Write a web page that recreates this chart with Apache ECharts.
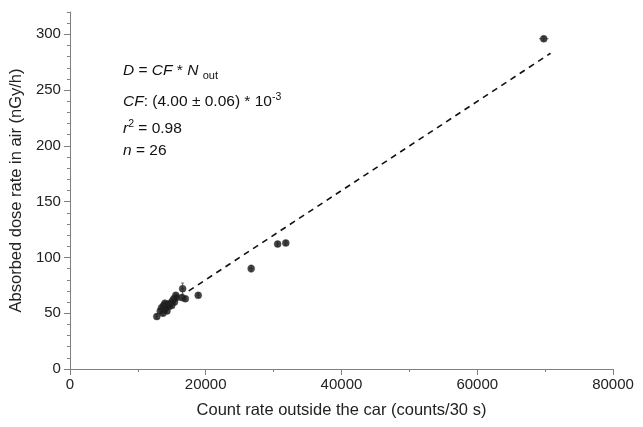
<!DOCTYPE html>
<html>
<head>
<meta charset="utf-8">
<script src="https://cdn.jsdelivr.net/npm/echarts@6/dist/echarts.min.js"></script>
<style>
html,body{margin:0;padding:0;background:#fff;}
#chart{width:643px;height:427px;}
</style>
</head>
<body>
<div id="chart"></div>
<script>
// Count rate outside the car (counts/30 s)
const countRate = [12800, 13300, 13500, 13700, 13800, 13900, 14000, 14100, 14300, 14400,
                   14600, 14800, 15000, 15100, 15300, 15400, 15600, 15700, 16600, 16500,
                   17000, 18900, 26700, 30600, 31800, 69800];
// Absorbed dose rate in air (nGy/h)
const doseRate  = [47, 52, 55, 50, 57, 53, 59, 55, 52, 58,
                   56, 59, 57, 61, 63, 60, 66, 64, 72, 64,
                   63, 66, 90, 112, 113, 296];
const countErr  = [200, 200, 200, 200, 200, 200, 200, 200, 200, 200,
                   200, 200, 200, 200, 200, 200, 200, 200, 200, 200,
                   200, 250, 300, 300, 350, 700];
const doseErr   = [2, 2, 2, 2, 2, 2, 2, 2, 2, 2,
                   2, 2, 2, 2, 2, 2, 2, 2, 5, 2,
                   2, 2, 3, 2, 2, 2];
// Fit D = CF * N_out, CF = 4.00e-3
const fitX = [17500, 70800];
const fitY = [70, 283];

const xTicks = [0, 20000, 40000, 60000, 80000];
const yTicks = [0, 50, 100, 150, 200, 250, 300];

const chart = echarts.init(document.getElementById('chart'), null, {renderer: 'canvas'});

const scatterData = countRate.map((x, i) => [x, doseRate[i]]);
const errData = countRate.map((x, i) => [x, doseRate[i], countErr[i], doseErr[i]]);
const fitData = fitX.map((x, i) => [x, fitY[i]]);

const axisColor = '#808080';
const labelColor = '#222';
const font = 'Liberation Sans, Arial, sans-serif';

chart.setOption({
  animation: false,
  backgroundColor: '#fff',
  grid: {left: 69, right: 30, top: 12, bottom: 58, containLabel: false},
  xAxis: [{
    type: 'value', min: xTicks[0], max: xTicks[xTicks.length - 1], interval: 20000,
    name: 'Count rate outside the car (counts/30 s)', nameLocation: 'middle', nameGap: 33,
    nameTextStyle: {fontSize: 16.5, color: labelColor, fontFamily: font},
    axisLine: {show: true, lineStyle: {color: axisColor, width: 1}},
    axisTick: {show: true, length: 6, lineStyle: {color: axisColor}},
    minorTick: {show: true, splitNumber: 2, length: 3, lineStyle: {color: axisColor}},
    axisLabel: {fontSize: 15, color: labelColor, fontFamily: font, margin: 8,
      formatter: v => String(v)},
    splitLine: {show: false}
  }],
  yAxis: [{
    type: 'value', min: 0, max: 320, interval: 50,
    name: 'Absorbed dose rate in air (nGy/h)', nameLocation: 'middle', nameGap: 43,
    nameTextStyle: {fontSize: 16.5, color: labelColor, fontFamily: font},
    axisLine: {show: true, lineStyle: {color: axisColor, width: 1}},
    axisTick: {show: true, length: 6, lineStyle: {color: axisColor}},
    axisLabel: {fontSize: 15, color: labelColor, fontFamily: font, margin: 9, showMaxLabel: false,
      formatter: v => (yTicks.indexOf(v) >= 0 ? String(v) : '')},
    splitLine: {show: false}
  }, {
    type: 'value', min: 0, max: 320, interval: 10, position: 'left',
    axisLine: {show: false},
    axisTick: {show: true, length: 3, lineStyle: {color: axisColor}},
    axisLabel: {show: false},
    splitLine: {show: false}
  }],
  series: [{
    type: 'line', data: fitData, symbol: 'none', silent: true,
    lineStyle: {color: '#111', width: 1.6, type: [6, 5]}, z: 2
  }, {
    type: 'custom', data: errData, z: 3, silent: true,
    renderItem: function (params, api) {
      const x = api.value(0), y = api.value(1), ex = api.value(2), ey = api.value(3);
      const l = api.coord([x - ex, y]), r = api.coord([x + ex, y]);
      const t = api.coord([x, y + ey]), b = api.coord([x, y - ey]);
      const st = {stroke: '#666', lineWidth: 1};
      return {type: 'group', children: [
        {type: 'line', shape: {x1: l[0], y1: l[1], x2: r[0], y2: r[1]}, style: st},
        {type: 'line', shape: {x1: t[0], y1: t[1], x2: b[0], y2: b[1]}, style: st},
        {type: 'line', shape: {x1: t[0] - 1.5, y1: t[1], x2: t[0] + 1.5, y2: t[1]}, style: st},
        {type: 'line', shape: {x1: b[0] - 1.5, y1: b[1], x2: b[0] + 1.5, y2: b[1]}, style: st}
      ]};
    }
  }, {
    type: 'scatter', data: scatterData, symbol: 'circle', symbolSize: 7, z: 4,
    itemStyle: {color: '#1a1a1a', borderColor: '#333', borderWidth: 0.5}
  }],
  graphic: [
    {type: 'text', left: 123, top: 63, style: {
      text: '{i|D} = {i|CF} * {i|N} {sub|out}',
      font: '15.5px ' + font, fill: '#111',
      rich: {
        i: {fontStyle: 'italic', fontSize: 15.5, fontFamily: font, lineHeight: 21, verticalAlign: 'middle'},
        sub: {fontSize: 11, fontFamily: font, lineHeight: 9, verticalAlign: 'bottom'}
      }
    }},
    {type: 'text', left: 123, top: 92, style: {
      text: '{i|CF}: (4.00 \u00b1 0.06) * 10{sup|-3}',
      font: '15.5px ' + font, fill: '#111',
      rich: {
        i: {fontStyle: 'italic', fontSize: 15.5, fontFamily: font, lineHeight: 20},
        sup: {fontSize: 10.5, fontFamily: font, lineHeight: 8, verticalAlign: 'top'}
      }
    }},
    {type: 'text', left: 123, top: 119, style: {
      text: '{i|r}{sup|2} = 0.98',
      font: '15.5px ' + font, fill: '#111',
      rich: {
        i: {fontStyle: 'italic', fontSize: 15.5, fontFamily: font, lineHeight: 20},
        sup: {fontSize: 10.5, fontFamily: font, lineHeight: 8, verticalAlign: 'top'}
      }
    }},
    {type: 'text', left: 123, top: 143, style: {
      text: '{i|n} = 26',
      font: '15.5px ' + font, fill: '#111',
      rich: {
        i: {fontStyle: 'italic', fontSize: 15.5, fontFamily: font, lineHeight: 20}
      }
    }}
  ]
});
</script>
</body>
</html>
